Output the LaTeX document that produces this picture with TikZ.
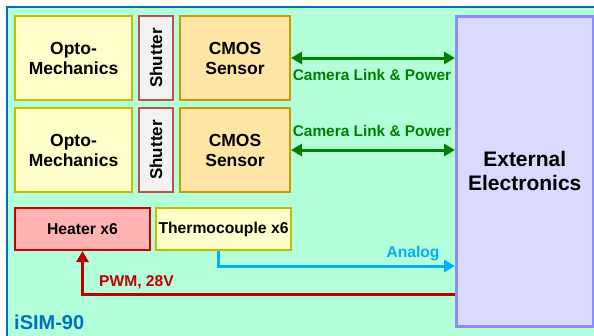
\documentclass[tikz,border=0pt]{standalone}
\usepackage{fontspec}
\setmainfont{Liberation Sans}
\usetikzlibrary{arrows.meta,calc}
\definecolor{bggreen}{HTML}{B3FFD9}
\definecolor{frameblue}{HTML}{0070C0}
\definecolor{optofill}{HTML}{FFFFCC}
\definecolor{optoline}{HTML}{BFBF00}
\definecolor{shfill}{HTML}{F2F2F2}
\definecolor{shline}{HTML}{C0504D}
\definecolor{cmosfill}{HTML}{FFE6A6}
\definecolor{cmosline}{HTML}{CC9900}
\definecolor{heatfill}{HTML}{FFB3B3}
\definecolor{heatline}{HTML}{CC0000}
\definecolor{extfill}{HTML}{DADAFF}
\definecolor{extline}{HTML}{8C8CFF}
\definecolor{linkgreen}{HTML}{007F00}
\definecolor{analogblue}{HTML}{00B0F0}
\definecolor{pwmred}{HTML}{C00000}
\tikzset{
  blk/.style={draw, line width=2pt, inner sep=0pt, align=center, anchor=north west},
  optobox/.style={blk, fill=optofill, draw=optoline, minimum width=117pt, minimum height=84pt, font=\fontsize{17.5}{20}\selectfont\bfseries},
  shbox/.style={blk, fill=shfill, draw=shline, minimum width=34pt, minimum height=84pt},
  shtext/.style={rotate=90, inner sep=0pt, font=\fontsize{17}{19}\selectfont\bfseries},
  cmosbox/.style={blk, fill=cmosfill, draw=cmosline, minimum width=110pt, minimum height=84pt, font=\fontsize{17.5}{20}\selectfont\bfseries},
  smallbox/.style={blk, minimum width=135pt, minimum height=42pt, font=\fontsize{15.7}{18}\selectfont\bfseries},
  arrowtip/.style={Triangle[length=11pt,width=12pt]},
  linkarrow/.style={draw=linkgreen, line width=3pt, {Triangle[length=11pt,width=12pt]}-{Triangle[length=11pt,width=12pt]}},
  lbl/.style={font=\fontsize{15.4}{18}\selectfont\bfseries, inner sep=0pt},
}
\begin{document}
\begin{tikzpicture}[x=1pt,y=-1pt]
\useasboundingbox (0,0) rectangle (594,335);
\clip (0,0) rectangle (594,335);
\fill[bggreen] (7,7) rectangle (600,340);
\draw[frameblue, line width=2pt] (7,340) -- (7,7) -- (600,7);
% blocks
\node[optobox] (opto1) at (14,15) {Opto-\\Mechanics};
\node[shbox] (sh1) at (138,15) {};
\node[shtext] (sh1t) at (sh1.center) {Shutter};
\node[cmosbox] (cmos1) at (179,15) {CMOS\\Sensor};
\node[optobox] (opto2) at (14,107) {Opto-\\Mechanics};
\node[shbox] (sh2) at (138,107) {};
\node[shtext] (sh2t) at (sh2.center) {Shutter};
\node[cmosbox] (cmos2) at (179,107) {CMOS\\Sensor};
\node[smallbox, fill=heatfill, draw=heatline] (heater) at (14,207) {Heater x6};
\node[smallbox, fill=optofill, draw=optoline] (thermo) at (155,207) {Thermocouple x6};
\node[blk, fill=extfill, draw=extline, line width=2.5pt, minimum width=137pt, minimum height=310pt, font=\fontsize{21}{24}\selectfont\bfseries] (ext) at (455,15) {External\\Electronics};
% camera links
\draw[linkarrow] (cmos1.east) -- (cmos1.east -| ext.west);
\draw[linkarrow] (cmos2.east) -- (cmos2.east -| ext.west);
\node[lbl, text=linkgreen] (cl1) at (372,75) {Camera Link \& Power};
\node[lbl, text=linkgreen] (cl2) at (372,131) {Camera Link \& Power};
% analog
\coordinate (an) at ($(thermo.south)+(-5,0)$);
\draw[analogblue, line width=3pt, -{Triangle[length=11pt,width=12pt]}] (an) |- (ext.west |- 0,266);
\node[lbl, text=analogblue, font=\fontsize{15.6}{18}\selectfont\bfseries] (analog) at (413,253) {Analog};
% PWM
\coordinate (pw) at (ext.west |- 0,294);
\draw[pwmred, line width=3pt, -{Triangle[length=11pt,width=12pt]}] (pw) -| (heater.south);
\node[lbl, text=pwmred, anchor=west, font=\fontsize{15.6}{18}\selectfont\bfseries] (pwm) at (99,282) {PWM, 28V};
% title
\node[lbl, text=frameblue, anchor=west, font=\fontsize{20}{23}\selectfont\bfseries] (title) at (14,322) {iSIM-90};
\end{tikzpicture}
\end{document}
